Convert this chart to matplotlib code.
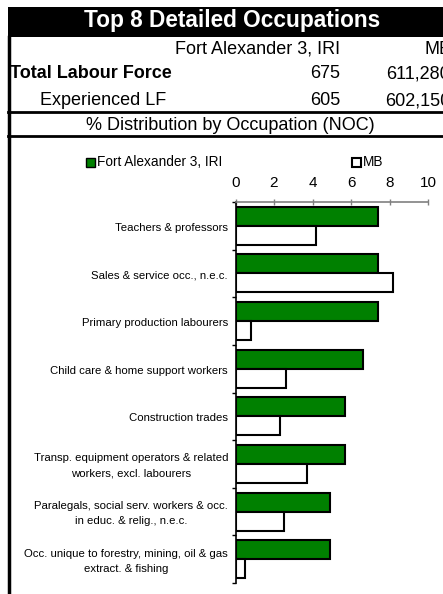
import numpy as np
import matplotlib
matplotlib.use("Agg")
import matplotlib.pyplot as plt
from matplotlib.patches import Rectangle
from matplotlib.lines import Line2D
from matplotlib.transforms import offset_copy

plt.rcParams['font.family'] = ['Liberation Sans', 'DejaVu Sans']

# data
categories = [
    "Teachers & professors",
    "Sales & service occ., n.e.c.",
    "Primary production labourers",
    "Child care & home support workers",
    "Construction trades",
    "Transp. equipment operators & related\nworkers, excl. labourers",
    "Paralegals, social serv. workers & occ.\nin educ. & relig., n.e.c.",
    "Occ. unique to forestry, mining, oil & gas\nextract. & fishing",
]
fort_vals = [7.4, 7.4, 7.4, 6.6, 5.7, 5.7, 4.9, 4.9]
mb_vals = [4.2, 8.2, 0.8, 2.6, 2.3, 3.7, 2.5, 0.5]
x_ticks = [0, 2, 4, 6, 8, 10]

area_name = "Fort Alexander 3, IRI"
prov_name = "MB"
total_lf = ["675", "611,280"]
exp_lf = ["605", "602,150"]

W, H = 443, 594
fig = plt.figure(figsize=(W / 100, H / 100), dpi=100)

def fx(px):
    return px / W

def fy(py):
    return 1 - py / H

# header band
fig.patches.append(Rectangle((fx(8), fy(37)), 1, fy(7) - fy(37), transform=fig.transFigure,
                             facecolor="black", edgecolor="none"))
fig.text(fx(232), fy(27.5), "Top 8 Detailed Occupations", color="white", fontsize=16.3,
         fontweight="bold", ha="center", va="baseline")

# table rows (baselines in px)
row_fs = 13
fig.text(fx(340), fy(53.5), area_name, fontsize=row_fs, ha="right", va="baseline")
fig.text(fx(452), fy(53.5), prov_name, fontsize=row_fs, ha="right", va="baseline")
fig.text(fx(10), fy(78.5), "Total Labour Force", fontsize=row_fs, fontweight="bold", ha="left", va="baseline")
fig.text(fx(340), fy(78.5), total_lf[0], fontsize=row_fs, ha="right", va="baseline")
fig.text(fx(450), fy(78.5), total_lf[1], fontsize=row_fs, ha="right", va="baseline")
fig.text(fx(40), fy(105.5), "Experienced LF", fontsize=row_fs, ha="left", va="baseline")
fig.text(fx(340), fy(105.5), exp_lf[0], fontsize=row_fs, ha="right", va="baseline")
fig.text(fx(450), fy(105.5), exp_lf[1], fontsize=row_fs, ha="right", va="baseline")

fig.text(fx(230), fy(130), "% Distribution by Occupation (NOC)", fontsize=row_fs, ha="center", va="baseline")

# frame lines
for yy in (112, 136):
    fig.lines.append(Line2D([fx(8), 1], [fy(yy), fy(yy)], transform=fig.transFigure,
                            color="black", lw=2))
fig.lines.append(Line2D([fx(9), fx(9)], [fy(37), 0], transform=fig.transFigure,
                        color="black", lw=2.5))

# legend
green = "#008000"
fig.patches.append(Rectangle((fx(86), fy(167)), fx(9), fy(158) - fy(167), transform=fig.transFigure,
                             facecolor=green, edgecolor="black", lw=1))
fig.text(fx(97), fy(162.5), area_name, fontsize=9.8, ha="left", va="center")
fig.patches.append(Rectangle((fx(352), fy(167)), fx(9), fy(158) - fy(167), transform=fig.transFigure,
                             facecolor="white", edgecolor="black", lw=1.5))
fig.text(fx(363), fy(162.5), prov_name, fontsize=9.8, ha="left", va="center")

# chart
ax = fig.add_axes([fx(235.5), fy(583), fx(428) - fx(235.5), fy(202) - fy(583)])
y = np.arange(len(categories))
ax.barh(y - 0.2, fort_vals, height=0.4, color=green, edgecolor="black", lw=1.5)
ax.barh(y + 0.2, mb_vals, height=0.4, color="white", edgecolor="black", lw=1.5)

ax.set_xlim(0, 10)
ax.set_ylim(len(categories) - 0.5, -0.5)
ax.set_xticks(x_ticks)
ax.xaxis.tick_top()
ax.tick_params(axis="x", direction="inout", length=5, width=1, color="#808080",
               labelsize=11, pad=6)

# category labels as text so the line spacing sticks
ax.set_yticks([])
ax.set_yticks(np.arange(len(categories) + 1) - 0.5, minor=True)
ax.tick_params(axis="y", which="minor", length=3, direction="out", width=1)
lbl_tr = offset_copy(ax.get_yaxis_transform(), fig=fig, x=-7.5, y=-2, units="dots")
for yi, name in zip(y, categories):
    ax.text(0, yi, name, transform=lbl_tr, fontsize=8.2, ha="right", va="center",
            multialignment="center", linespacing=1.65)

for s in ("right", "bottom"):
    ax.spines[s].set_visible(False)
ax.spines["top"].set_color("#808080")
ax.spines["top"].set_linewidth(1.2)
ax.spines["left"].set_linewidth(1.2)

fig.savefig("out.png", dpi=100)
